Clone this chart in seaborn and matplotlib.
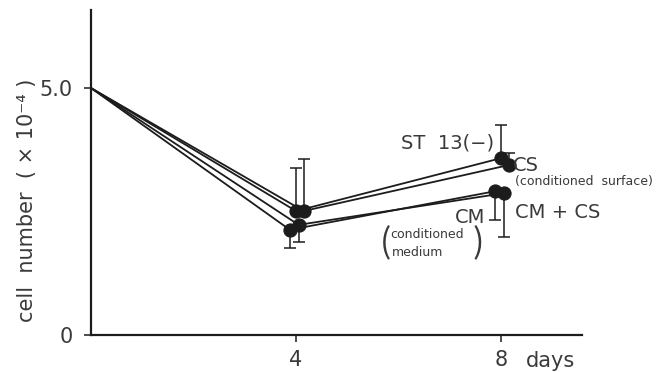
import pandas as pd
import matplotlib
matplotlib.use("Agg")
import matplotlib.pyplot as plt
import seaborn as sns

days = [0, 4, 8]
series_names = ["ST 13(−)", "CS", "CM", "CM + CS"]
st13 = [5.0, 2.51, 3.58]
cs = [5.0, 2.51, 3.44]
cm = [5.0, 2.13, 2.91]
cm_cs = [5.0, 2.23, 2.87]
# error bar extents (below, above) at day 4 and day 8
st13_err = [[0, 0], [0.87, 0.67]]
cs_err = [[0, 0], [1.05, 0.24]]
cm_err = [[0.37, 0.58], [0, 0]]
cm_cs_err = [[0.35, 0.89], [0, 0]]

values = [st13, cs, cm, cm_cs]
errors = [st13_err, cs_err, cm_err, cm_cs_err]
dodge = {"ST 13(−)": 0.0, "CS": 0.15, "CM": -0.12, "CM + CS": 0.05}

rows = []
for name, vals in zip(series_names, values):
    for d, v in zip(days, vals):
        rows.append({"series": name, "day": d + (dodge[name] if d > 0 else 0), "cells": v})
df = pd.DataFrame(rows)

sns.set_style("white")
plt.rcParams['font.family'] = ['DejaVu Sans', 'Noto Sans CJK JP']
ink = "#1c1c1c"
txt = "#3a3a3a"

fig = plt.figure(figsize=(6.72, 3.72), dpi=100)
ax = fig.add_axes([91 / 672, 37 / 372, 491 / 672, 325 / 372])

# no dot at the starting point, only at day 4 and day 8
sns.lineplot(data=df, x="day", y="cells", hue="series", palette=[ink] * 4,
             marker="o", markersize=9.5, markeredgecolor=ink, linewidth=1.3,
             markevery=[1, 2], estimator=None, sort=False, legend=False, ax=ax)

for name, err in zip(series_names, errors):
    sub = df[(df["series"] == name) & (df["day"] > 0)]
    ax.errorbar(sub["day"], sub["cells"], yerr=err, fmt="none", ecolor=ink,
                elinewidth=1.1, capsize=4, capthick=1.1)

ax.set_xlim(0, 9.58)
ax.set_ylim(0, 6.58)
ax.set_xticks([4, 8])
ax.set_xticklabels(["4", "8"])
ax.set_yticks([0, 5.0])
ax.set_yticklabels(["0", "5.0"])
ax.tick_params(axis="x", bottom=True, length=5, width=1.1, color=ink, pad=6, labelsize=15, labelcolor=txt)
ax.tick_params(axis="y", left=True, length=5, width=1.1, color=ink, pad=8, labelsize=15, labelcolor=txt)
ax.set_xlabel("")
ax.set_ylabel("")
sns.despine(ax=ax)
for s in ["left", "bottom"]:
    ax.spines[s].set_color(ink)
    ax.spines[s].set_linewidth(1.6)

ax.text(8.49, -0.53, "days", fontsize=15, color=txt, ha="left", va="center", clip_on=False)
ax.text(6.05, 3.89, "ST  13(−)", fontsize=14, color=txt, ha="left", va="center")
ax.text(8.23, 3.44, "CS", fontsize=14, color=txt, ha="left", va="center")
ax.text(8.27, 3.10, "(conditioned  surface)", fontsize=9, color=txt, ha="left", va="center")
ax.text(8.27, 2.49, "CM + CS", fontsize=14, color=txt, ha="left", va="center")
ax.text(7.69, 2.37, "CM", fontsize=14, color=txt, ha="right", va="center")
ax.text(5.83, 2.04, "conditioned", fontsize=9, color=txt, ha="left", va="center")
ax.text(5.87, 1.68, "medium", fontsize=9, color=txt, ha="left", va="center")
ax.text(5.74, 1.84, "(", fontsize=24, color=txt, ha="center", va="center",
        family=['Noto Sans CJK JP', 'DejaVu Sans'])
ax.text(7.55, 1.84, ")", fontsize=24, color=txt, ha="center", va="center",
        family=['Noto Sans CJK JP', 'DejaVu Sans'])

fig.text(27 / 672, 1 - 200 / 372, "cell  number  ( × 10⁻⁴ )", rotation=90,
         fontsize=15, color=txt, ha="center", va="center")

fig.savefig("out.png", dpi=100)
